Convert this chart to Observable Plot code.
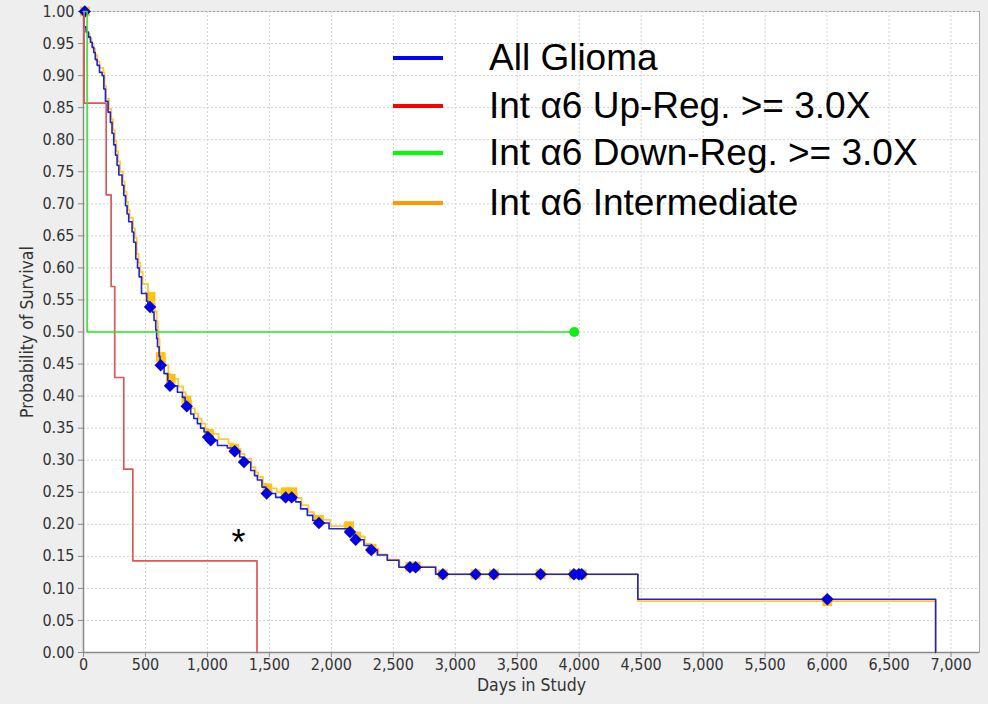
<!DOCTYPE html>
<html><head><meta charset="utf-8">
<script src="https://cdn.jsdelivr.net/npm/d3@7"></script>
<script src="https://cdn.jsdelivr.net/npm/@observablehq/plot@0.6"></script>
<style>
html,body{margin:0;padding:0;background:#eeeeee;}
#wrap{position:relative;width:988px;height:704px;overflow:hidden;}
.lg-line{position:absolute;height:4px;width:50px;left:393px;}
.lg-text{position:absolute;left:489px;font-family:"Liberation Sans",Arial,sans-serif;font-size:37px;line-height:40px;color:#000;white-space:nowrap;}
</style></head><body><div id="wrap"></div>
<script>
// ---- data ----
const xTicks = [0,500,1000,1500,2000,2500,3000,3500,4000,4500,5000,5500,6000,6500,7000];
const yTicks = [0,0.05,0.10,0.15,0.20,0.25,0.30,0.35,0.40,0.45,0.50,0.55,0.60,0.65,0.70,0.75,0.80,0.85,0.90,0.95,1.00];

const seriesNames = ["All Glioma","Int \u03b16 Up-Reg. >= 3.0X","Int \u03b16 Down-Reg. >= 3.0X","Int \u03b16 Intermediate"];
const seriesColors = ["#0000ff","#ff0000","#00ff00","#ff9900"];

// All Glioma (Kaplan-Meier steps)
const allDays = [0,3,21,40,56,70,83,95,110,129,150,164,177,198,217,230,244,258,271,285,311,325,339,352,365,392,405,422,436,449,468,510,520,556,569,583,590,597,610,618,650,680,690,758,798,820,830,865,890,919,945,973,1000,1020,1081,1161,1210,1260,1285,1349,1380,1403,1440,1470,1551,1712,1752,1806,1850,1880,1981,2130,2180,2263,2310,2371,2451,2545,2841,4473,6876];
const allSurv = [1,0.976,0.968,0.960,0.952,0.944,0.936,0.925,0.916,0.905,0.900,0.879,0.860,0.843,0.827,0.810,0.792,0.776,0.760,0.745,0.729,0.713,0.697,0.684,0.672,0.656,0.640,0.614,0.600,0.586,0.560,0.548,0.539,0.531,0.518,0.503,0.490,0.477,0.462,0.448,0.435,0.424,0.416,0.406,0.398,0.390,0.384,0.372,0.365,0.357,0.350,0.344,0.336,0.331,0.323,0.319,0.314,0.305,0.297,0.284,0.276,0.269,0.258,0.248,0.242,0.235,0.224,0.214,0.206,0.202,0.193,0.188,0.176,0.167,0.160,0.152,0.144,0.133,0.122,0.083,0];
const allCensDays = [10,537,623,698,833,1005,1027,1220,1295,1478,1631,1680,1900,2150,2196,2322,2634,2680,2900,3164,3311,3688,3957,3997,4020,6002];
const allCensSurv = [1,0.539,0.448,0.416,0.384,0.336,0.331,0.314,0.297,0.248,0.242,0.242,0.202,0.188,0.176,0.160,0.133,0.133,0.122,0.122,0.122,0.122,0.122,0.122,0.122,0.083];

// Int a6 Intermediate
const midDays = [0,5,30,50,65,80,95,110,130,160,170,182,205,224,238,252,265,280,295,318,332,347,360,372,400,415,430,444,458,477,520,560,575,590,600,606,614,655,685,698,765,805,825,870,898,925,952,985,1008,1090,1170,1210,1268,1300,1355,1388,1410,1448,1480,1560,1720,1760,1815,1860,1890,1990,2170,2270,2320,2380,2455,2550,2845,4475,6876];
const midSurv = [1,0.975,0.966,0.958,0.950,0.942,0.932,0.922,0.912,0.905,0.884,0.864,0.848,0.832,0.815,0.798,0.782,0.766,0.750,0.735,0.719,0.703,0.690,0.678,0.662,0.647,0.622,0.608,0.594,0.575,0.555,0.545,0.532,0.517,0.503,0.489,0.461,0.448,0.435,0.427,0.415,0.406,0.393,0.381,0.373,0.365,0.357,0.349,0.341,0.333,0.326,0.318,0.310,0.302,0.289,0.281,0.274,0.263,0.256,0.250,0.241,0.230,0.219,0.211,0.207,0.197,0.181,0.170,0.162,0.153,0.145,0.134,0.122,0.080,0];
const midCensDays = [12,540,623,704,830,1013,1215,1484,1631,1685,1900,2143,2200,2325,2636,2682,2900,3164,3311,3688,3957,3997,4020,6002];
const midCensSurv = [1,0.555,0.461,0.427,0.393,0.341,0.318,0.256,0.250,0.250,0.207,0.197,0.181,0.162,0.134,0.134,0.122,0.122,0.122,0.122,0.122,0.122,0.122,0.080];

// Int a6 Up-Reg >= 3.0X
const upDays = [0,5,183,223,252,325,398,1400];
const upSurv = [1,0.857,0.714,0.571,0.429,0.286,0.143,0];

// Int a6 Down-Reg >= 3.0X
const downDays = [0,29,3960];
const downSurv = [1,0.5,0.5];
const downCensDays = [3960];
const downCensSurv = [0.5];

const annotDays = [1250];
const annotSurv = [0.18];
const annotText = ["*"];

// ---- build tables ----
const tab = (xs, ys) => xs.map((d, i) => ({day: d, surv: ys[i]}));
const allT = tab(allDays, allSurv), allC = tab(allCensDays, allCensSurv);
const midT = tab(midDays, midSurv), midC = tab(midCensDays, midCensSurv);
const upT = tab(upDays, upSurv);
const downT = tab(downDays, downSurv), downC = tab(downCensDays, downCensSurv);
const annT = annotDays.map((d, i) => ({day: d, surv: annotSurv[i], text: annotText[i]}));

const axisFont = "'Liberation Sans Narrow','Arial Narrow','DejaVu Sans Condensed',sans-serif";

const chart = Plot.plot({
  width: 988, height: 704,
  marginLeft: 83, marginRight: 9, marginTop: 11, marginBottom: 52,
  style: {background: "transparent", fontFamily: axisFont, fontSize: "16px", color: "#333"},
  x: {domain: [0, 7230]},
  y: {domain: [0, 1]},
  marks: [
    Plot.frame({fill: "white", stroke: "#a8a8a8"}),
    Plot.gridX(xTicks, {stroke: "#d2d2d2", strokeOpacity: 1, strokeDasharray: "2,2"}),
    Plot.gridY(yTicks, {stroke: "#d2d2d2", strokeOpacity: 1, strokeDasharray: "2,2"}),
    Plot.ruleX([0], {stroke: "#8a8a8a", strokeWidth: 1.5}),
    Plot.ruleY([0], {stroke: "#8a8a8a", strokeWidth: 1.5}),
    Plot.axisX(xTicks, {tickFormat: d3.format(","), tickSize: 5, tickPadding: 1, stroke: "#8a8a8a", label: null, fontSize: 16}),
    Plot.axisY(yTicks, {tickFormat: d3.format(".2f"), tickSize: 5, tickPadding: 4, stroke: "#8a8a8a", label: null, fontSize: 16}),
    Plot.text(["Days in Study"], {frameAnchor: "bottom", dy: 38, fontSize: 17.5, fill: "#333"}),
    Plot.text(["Probability of Survival"], {frameAnchor: "left", textAnchor: "middle", dx: -56, rotate: -90, fontSize: 17.5, fill: "#333"}),
    Plot.line(midT, {x: "day", y: "surv", curve: "step-after", stroke: "#ffc933", strokeWidth: 1.8}),
    Plot.dot(midC, {x: "day", y: "surv", symbol: "square", fill: "#ffc20e", r: 5.5}),
    Plot.line(allT, {x: "day", y: "surv", curve: "step-after", stroke: "#2020d8", strokeWidth: 1.6}),
    Plot.dot(allC, {x: "day", y: "surv", symbol: "diamond2", fill: "#0000e0", r: 5.6}),
    Plot.line(upT, {x: "day", y: "surv", curve: "step-after", stroke: "#e05656", strokeWidth: 1.7}),
    Plot.line(downT, {x: "day", y: "surv", curve: "step-after", stroke: "#22ee22", strokeWidth: 1.6}),
    Plot.dot(downC, {x: "day", y: "surv", fill: "#11ee11", r: 5}),
    Plot.text(annT, {x: "day", y: "surv", text: "text", fontSize: 36, fontFamily: "'Liberation Sans',Arial,sans-serif", fill: "#000", dy: 6})
  ]
});
const wrap = document.getElementById("wrap");
wrap.appendChild(chart);

// legend (inside plot area, top right)
const legendY = [58, 106, 153, 203];
seriesNames.forEach((name, i) => {
  const ln = document.createElement("div");
  ln.className = "lg-line";
  ln.style.top = (legendY[i] - 2) + "px";
  ln.style.background = seriesColors[i];
  wrap.appendChild(ln);
  const tx = document.createElement("div");
  tx.className = "lg-text";
  tx.style.top = (legendY[i] - 20) + "px";
  tx.textContent = name;
  wrap.appendChild(tx);
});
</script>
</body></html>
